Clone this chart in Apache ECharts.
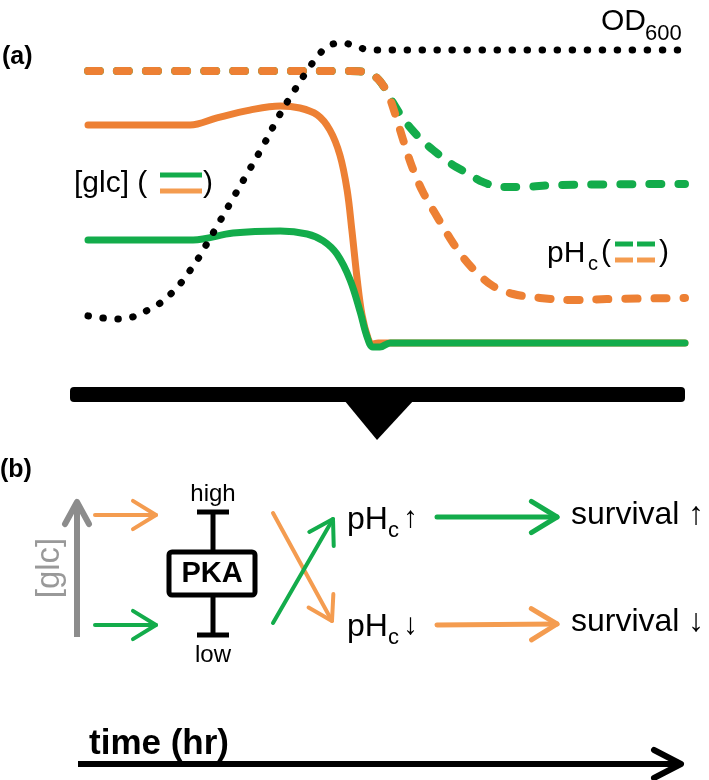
<!DOCTYPE html>
<html>
<head>
<meta charset="utf-8">
<script src="https://cdn.jsdelivr.net/npm/echarts@6/dist/echarts.min.js"></script>
<style>
  html, body { margin: 0; padding: 0; background: #fff; }
  #chart { width: 709px; height: 780px; }
</style>
</head>
<body>
<div id="chart"></div>
<script>
// schematic curves, x = time (arb. units 0-100), y = level (arb. units 0-100)
const od600 = [[0, 9.7], [2.5, 9], [5, 8.7], [7.4, 9.3], [9.7, 11.3], [11.9, 13.7], [13.7, 16.7], [15.4, 20.3],
  [16.9, 24.3], [18.3, 28.3], [19.6, 32.7], [22.1, 41.3], [24.6, 50], [27, 58.3], [29.5, 67], [31.8, 75.7],
  [34.3, 84], [37, 92.3], [38.5, 96.3], [40.2, 99.7], [42.7, 100.7], [45.1, 99.3], [47.6, 98.3], [60, 98.3], [100, 98.3]];
const phHigh = [[0, 91.3], [20, 91.3], [43.9, 91.3], [46.4, 91], [48.4, 89], [49.9, 85], [51.1, 80.7], [52.6, 76],
  [54.3, 71.7], [55.9, 68.3], [57.8, 65], [60.6, 60.7], [63.5, 57.3], [66.2, 54.3], [69.1, 52.7], [72.9, 52.7],
  [77.9, 53.3], [100, 53.7]];
const phLow = [[0, 91.3], [20, 91.3], [43.9, 91.3], [46.4, 91], [48.4, 89], [50.1, 84.3], [51.4, 77.3], [52.8, 68.3],
  [54.3, 59.3], [56.1, 51], [58.5, 42.7], [60.6, 35.7], [62.8, 29.3], [65.2, 24], [67.8, 19.7], [71.2, 17],
  [75.7, 15.7], [81.2, 15], [86.9, 15.3], [100, 15.7]];
const glcHigh = [[0, 73.3], [17.1, 73.3], [21.6, 75.7], [27.1, 78.3], [32.2, 79.7], [35.5, 79], [38.4, 76.7],
  [40.5, 71.7], [42.2, 63.3], [43.4, 51.7], [44.2, 38.3], [45.1, 21.7], [45.9, 10], [46.9, 2.3], [47.6, 0.3],
  [48.6, 0.7], [100, 0.7]];
const glcLow = [[0, 35], [17.6, 35], [24.3, 37.3], [32.2, 38], [36.7, 37], [39.4, 34.7], [41.7, 30.3], [43.9, 21.7],
  [45.6, 11], [46.7, 3], [47.7, -0.7], [48.9, -0.7], [50.6, 0.7], [100, 0.7]];

const ORANGE = '#ED8034';
const ORANGE_LT = '#F49C50';
const GREEN = '#13AC4B';
const GRAY = '#8C8C8C';
const FONT = 'Liberation Sans, Arial, sans-serif';

const chart = echarts.init(document.getElementById('chart'), null, { renderer: 'canvas' });

const curve = (data, color, type, width, z) => ({
  type: 'line',
  data: data,
  smooth: 0.35,
  symbol: 'none',
  clip: false,
  silent: true,
  z: z,
  lineStyle: { color: color, width: width, type: type, cap: 'round', join: 'round' }
});

const txt = (x, y, text, size, opts) => Object.assign({
  type: 'text', x: x, y: y, silent: true,
  style: Object.assign({
    text: text, font: (opts && opts.bold ? 'bold ' : '') + size + 'px ' + FONT,
    fill: '#000', textAlign: 'left', textVerticalAlign: 'middle'
  }, opts && opts.style)
}, opts && opts.el);

const line = (pts, color, width, extra) => ({
  type: 'polyline', silent: true,
  shape: { points: pts },
  style: Object.assign({ stroke: color, lineWidth: width, fill: null, lineCap: 'round', lineJoin: 'round' }, extra)
});

// open arrow from p0 to p1 with chevron head
const arrow = (p0, p1, color, width, head) => {
  const a = Math.atan2(p1[1] - p0[1], p1[0] - p0[0]);
  const h = head || 26, s = 0.55;
  const l = [p1[0] - h * Math.cos(a - s), p1[1] - h * Math.sin(a - s)];
  const r = [p1[0] - h * Math.cos(a + s), p1[1] - h * Math.sin(a + s)];
  return [line([p0, p1], color, width), line([l, p1, r], color, width)];
};

const graphics = [
  // panel (a) labels
  txt(2, 57, '(a)', 25, { bold: true }),
  txt(601, 22, 'OD', 30),
  txt(645, 34, '600', 22),
  txt(74, 184, '[glc] (', 30),
  line([[160, 175], [202, 175]], GREEN, 5, { lineCap: 'butt' }),
  line([[160, 191], [202, 191]], ORANGE_LT, 5, { lineCap: 'butt' }),
  txt(203, 184, ')', 30),
  txt(547, 254, 'pH', 30),
  txt(588, 264, 'c', 20),
  txt(601, 253, '(', 30),
  line([[615, 244], [633, 244]], GREEN, 5, { lineCap: 'butt' }),
  line([[637, 244], [655, 244]], GREEN, 5, { lineCap: 'butt' }),
  line([[615, 260], [633, 260]], ORANGE_LT, 5, { lineCap: 'butt' }),
  line([[637, 260], [655, 260]], ORANGE_LT, 5, { lineCap: 'butt' }),
  txt(659, 253, ')', 30),

  // transition bar and arrowhead
  { type: 'rect', silent: true, shape: { x: 70, y: 387, width: 615, height: 15, r: 4 }, style: { fill: '#000' } },
  { type: 'polygon', silent: true, shape: { points: [[344, 400], [414, 400], [377, 440]] }, style: { fill: '#000' } },

  // panel (b)
  txt(0, 470, '(b)', 25, { bold: true }),
  line([[77, 637], [77, 503]], GRAY, 6, { lineCap: 'butt' }),
  line([[65, 524], [77, 502], [89, 524]], GRAY, 6),
  {
    type: 'text', x: 50, y: 568, rotation: Math.PI / 2, silent: true,
    style: { text: '[glc]', font: '33px ' + FONT, fill: '#999', textAlign: 'center', textVerticalAlign: 'middle' }
  },
  ...arrow([95, 515], [156, 515], ORANGE_LT, 4, 27),
  ...arrow([95, 625], [156, 625], GREEN, 4, 27),

  txt(213, 494, 'high', 24, { style: { textAlign: 'center' } }),
  line([[197, 512], [229, 512]], '#000', 5, { lineCap: 'butt' }),
  line([[213, 512], [213, 552]], '#000', 5, { lineCap: 'butt' }),
  { type: 'rect', silent: true, shape: { x: 169, y: 552, width: 86, height: 43, r: 3 }, style: { fill: '#fff', stroke: '#000', lineWidth: 5 } },
  txt(212, 574, 'PKA', 29, { bold: true, style: { textAlign: 'center' } }),
  line([[213, 595], [213, 635]], '#000', 5, { lineCap: 'butt' }),
  line([[197, 635], [229, 635]], '#000', 5, { lineCap: 'butt' }),
  txt(213, 655, 'low', 24, { style: { textAlign: 'center' } }),

  ...arrow([273, 513], [332, 621], ORANGE_LT, 4, 27),
  ...arrow([273, 623], [333, 519], GREEN, 4, 27),

  txt(347, 520, 'pH', 32),
  txt(388, 531, 'c', 22),
  txt(403, 519, '\u2191', 30),
  txt(347, 627, 'pH', 32),
  txt(388, 638, 'c', 22),
  txt(403, 626, '\u2193', 30),

  ...arrow([437, 517], [557, 517], GREEN, 5, 30),
  ...arrow([437, 625], [557, 624], ORANGE_LT, 5, 30),

  txt(571, 515, 'survival \u2191', 32),
  txt(571, 622, 'survival \u2193', 32),

  // time axis
  txt(89, 744, 'time (hr)', 35, { bold: true }),
  line([[78, 764], [679, 764]], '#000', 6, { lineCap: 'butt' }),
  line([[654, 750], [681, 764], [654, 778]], '#000', 6)
];

const option = {
  animation: false,
  backgroundColor: '#fff',
  grid: { left: 88, right: 24, top: 45, height: 300 },
  xAxis: { type: 'value', min: 0, max: 100, show: false },
  yAxis: { type: 'value', min: 0, max: 100, show: false },
  series: [
    curve(phHigh, GREEN, [12, 17], 8, 2),
    curve(phLow, ORANGE, [12, 17], 8, 3),
    curve(glcHigh, ORANGE, 'solid', 7, 4),
    curve(glcLow, GREEN, 'solid', 7, 5),
    curve(od600, '#000', [0.5, 14.5], 7, 6)
  ],
  graphic: graphics
};

chart.setOption(option);
</script>
</body>
</html>
